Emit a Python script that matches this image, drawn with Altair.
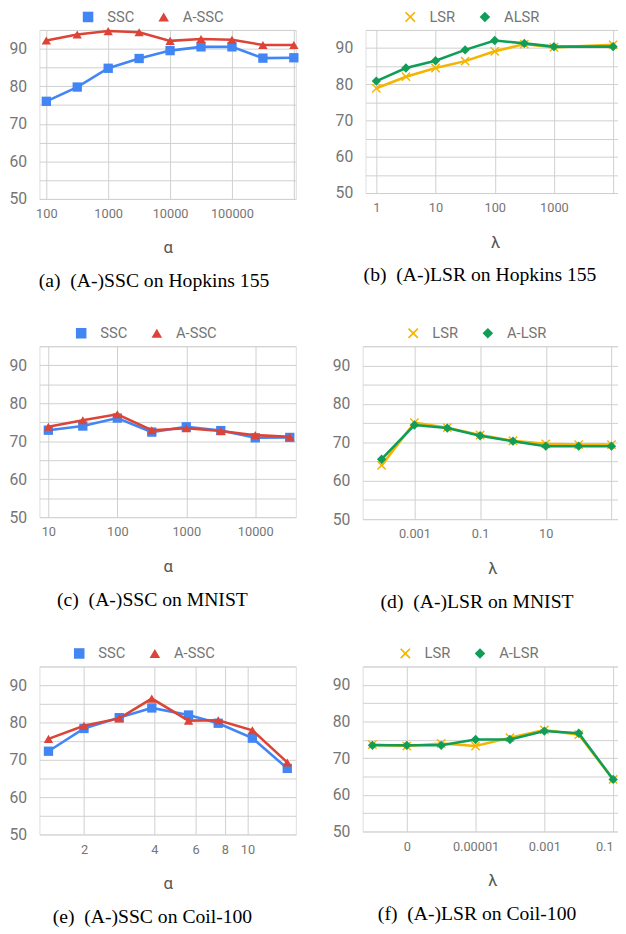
import json
import altair as alt
import pandas as pd

# ---------------- data ----------------
a_alpha = [100, 316, 1000, 3162, 10000, 31623, 100000, 316228, 1000000]
a_ssc = [76.0, 79.8, 84.8, 87.4, 89.5, 90.5, 90.5, 87.5, 87.6]
a_assc = [92.2, 93.8, 94.7, 94.4, 92.1, 92.6, 92.4, 91.0, 91.0]

b_lambda = [1, 3.16, 10, 31.6, 100, 316, 1000, 10000]
b_lsr = [78.9, 82.1, 84.5, 86.4, 89.1, 91.1, 90.2, 90.9]
b_alsr = [80.9, 84.5, 86.5, 89.5, 92.1, 91.3, 90.4, 90.4]

c_alpha = [10, 31.6, 100, 316, 1000, 3162, 10000, 31623]
c_ssc = [72.9, 74.0, 76.1, 72.4, 73.8, 72.8, 70.9, 71.0]
c_assc = [73.8, 75.5, 77.1, 72.9, 73.4, 72.7, 71.6, 71.2]

d_lambda = [0.0001, 0.001, 0.01, 0.1, 1, 10, 100, 1000]
d_lsr = [64.0, 75.1, 73.8, 71.9, 70.4, 69.6, 69.4, 69.4]
d_alsr = [65.6, 74.5, 73.7, 71.7, 70.3, 69.0, 69.0, 69.0]

e_alpha = [1.41, 2, 2.83, 3.9, 5.6, 7.5, 10.5, 14.8]
e_ssc = [72.3, 78.4, 81.3, 83.9, 82.0, 79.8, 75.8, 67.7]
e_assc = [75.6, 79.1, 81.1, 86.4, 80.5, 80.6, 77.9, 69.3]

f_lambda = [1e-8, 1e-7, 1e-6, 1e-5, 1e-4, 1e-3, 1e-2, 1e-1]
f_lsr = [73.7, 73.3, 74.0, 73.3, 75.6, 77.7, 76.4, 64.2]
f_alsr = [73.5, 73.5, 73.5, 75.1, 75.1, 77.4, 76.8, 64.2]

a_ticks = [100, 1000, 10000, 100000, 1000000]
a_tick_labels = ["100", "1000", "10000", "100000", ""]
b_ticks = [1, 10, 100, 1000, 10000]
b_tick_labels = ["1", "10", "100", "1000", ""]
c_ticks = [10, 100, 1000, 10000]
c_tick_labels = ["10", "100", "1000", "10000"]
d_ticks = [0.001, 0.1, 10, 1000]
d_tick_labels = ["0.001", "0.1", "10", ""]
e_ticks = [2, 4, 6, 8, 10]
e_tick_labels = ["2", "4", "6", "8", "10"]
f_ticks = [1e-7, 1e-5, 1e-3, 1e-1]
f_tick_labels = ["0", "0.00001", "0.001", "0.1"]

y_ticks = [50, 55, 60, 65, 70, 75, 80, 85, 90, 95]
y_tick_labels = ["50", "", "60", "", "70", "", "80", "", "90", ""]

ssc_names = ["SSC", "A-SSC"]
lsr_names_b = ["LSR", "ALSR"]
lsr_names = ["LSR", "A-LSR"]

captions = [
    "(a)\u00a0\u00a0(A-)SSC on Hopkins 155",
    "(b)\u00a0\u00a0(A-)LSR on Hopkins 155",
    "(c)\u00a0\u00a0(A-)SSC on MNIST",
    "(d)\u00a0\u00a0(A-)LSR on MNIST",
    "(e)\u00a0\u00a0(A-)SSC on Coil-100",
    "(f)\u00a0\u00a0(A-)LSR on Coil-100",
]

# ---------------- style ----------------
BLUE, RED, ORANGE, GREEN = "#4285F4", "#DB4437", "#F4B400", "#0F9D58"
XSHAPE = "M-1,-0.78L-0.78,-1L0,-0.22L0.78,-1L1,-0.78L0.22,0L1,0.78L0.78,1L0,0.22L-0.78,1L-1,0.78L-0.22,0Z"
GRID = "#cfcfcf"
LABEL = "#757575"


def expr(ticks, labels):
    return f"{json.dumps(labels)}[indexof({json.dumps(ticks)}, datum.value)]"


def panel(xs, s1, s2, names, colors, shapes, xdomain, ticks, tick_labels,
          xtitle, caption, w, h, lx, ly, last_right=False):
    n = len(xs)
    df = pd.DataFrame({
        "x": list(xs) + list(xs),
        "y": list(s1) + list(s2),
        "series": [names[0]] * n + [names[1]] * n,
    })
    if last_right:
        label_align = {"condition": {"test": f"datum.value >= {ticks[-1]}", "value": "right"},
                       "value": "center"}
    else:
        label_align = "center"
    x = alt.X("x:Q", scale=alt.Scale(type="log", domain=xdomain, nice=False),
              axis=alt.Axis(values=ticks, labelExpr=expr(ticks, tick_labels),
                            grid=True, gridColor=GRID, gridWidth=1, domain=False,
                            ticks=False, labelFont="Roboto", labelFontSize=13,
                            labelColor=LABEL, labelPadding=9, labelFlush=False,
                            labelAlign=label_align,
                            labelOverlap=False, title=xtitle, titleFont="Roboto",
                            titleFontSize=17, titleFontWeight="normal",
                            titleColor="#555555", titlePadding=20))
    y = alt.Y("y:Q", scale=alt.Scale(domain=[50, 95], nice=False, zero=False),
              axis=alt.Axis(values=y_ticks, labelExpr=expr(y_ticks, y_tick_labels),
                            grid=True, gridColor=GRID, gridWidth=1, domain=False,
                            ticks=False, labelFont="Roboto", labelFontSize=16,
                            labelColor=LABEL, labelPadding=13, title=None,
                            labelOverlap=False, labelFlush=False))
    leg = alt.Legend(orient="none", legendX=lx, legendY=ly,
                     direction="horizontal", title=None,
                     labelFont="Roboto", labelFontSize=15,
                     labelColor=LABEL, symbolSize=115,
                     symbolStrokeWidth=0, columnPadding=22,
                     labelOffset=12, padding=0, symbolOpacity=1)
    color = alt.Color("series:N", scale=alt.Scale(domain=names, range=colors), legend=leg)
    shape = alt.Shape("series:N", scale=alt.Scale(domain=names, range=shapes), legend=leg)
    base = alt.Chart(df)
    layers = []
    for nm, col in zip(names, colors):
        sub = base.transform_filter(alt.datum.series == nm)
        layers.append(sub.mark_line(strokeWidth=2.6, color=col).encode(x=x, y=y))
        layers.append(sub.mark_point(filled=True, opacity=1, size=90).encode(
            x=x, y=y, color=color, shape=shape))
    return alt.layer(*layers).properties(
        width=w, height=h,
        title=alt.TitleParams(caption, orient="bottom", anchor="middle", frame="bounds",
                              font="Liberation Serif", fontSize=20,
                              fontWeight="normal", color="black", offset=16),
    )


LW, RW = 261, 264
LY = -21

pa = panel(a_alpha, a_ssc, a_assc, ssc_names, [BLUE, RED], ["square", "triangle-up"],
           [77.4, 1.076e6], a_ticks, a_tick_labels, "α", captions[0], LW, 172, 42, LY)
pb = panel(b_lambda, b_lsr, b_alsr, lsr_names_b, [ORANGE, GREEN], [XSHAPE, "diamond"],
           [0.657, 15800], b_ticks, b_tick_labels, "λ", captions[1], RW, 166, 38, LY)
pc = panel(c_alpha, c_ssc, c_assc, ssc_names, [BLUE, RED], ["square", "triangle-up"],
           [7.43, 38700], c_ticks, c_tick_labels, "α", captions[2], LW, 174, 35, LY)
pd_ = panel(d_lambda, d_lsr, d_alsr, lsr_names, [ORANGE, GREEN], [XSHAPE, "diamond"],
            [2.64e-5, 2080], d_ticks, d_tick_labels, "λ", captions[3], RW, 176, 44, LY)
pe = panel(e_alpha, e_ssc, e_assc, ssc_names, [BLUE, RED], ["square", "triangle-up"],
           [1.29, 16.1], e_ticks, e_tick_labels, "α", captions[4], LW, 171, 33, LY)
pf = panel(f_lambda, f_lsr, f_alsr, lsr_names, [ORANGE, GREEN], [XSHAPE, "diamond"],
           [5.19e-9, 0.18], f_ticks, f_tick_labels, "λ", captions[5], RW, 168, 36, LY,
           last_right=True)


def row(l, r):
    return alt.hconcat(l, r, spacing=35).resolve_scale(
        color="independent", shape="independent", x="independent", y="independent")


chart = alt.vconcat(row(pa, pb), row(pc, pd_), row(pe, pf), spacing=33).resolve_scale(
    color="independent", shape="independent", x="independent", y="independent"
).properties(
    padding={"top": -8, "left": 0, "right": -8, "bottom": 0}
).configure_view(stroke=None).configure(background="white")

chart.save("out.html", embed_options={"renderer": "svg", "actions": False})
